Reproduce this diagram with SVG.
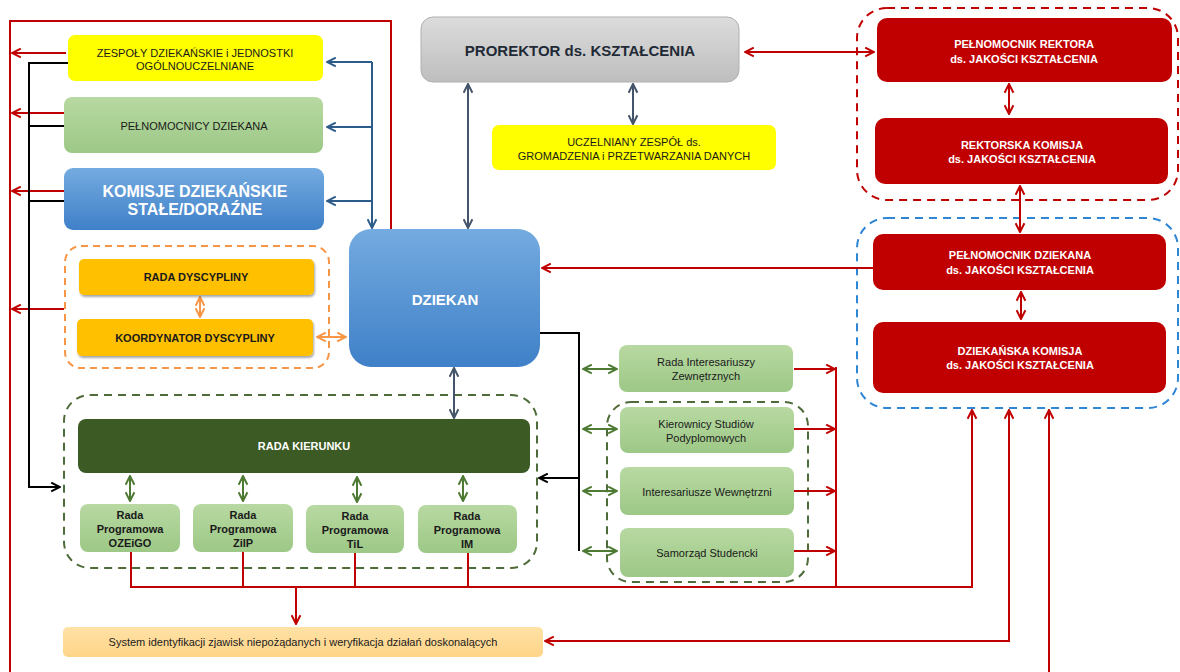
<svg xmlns="http://www.w3.org/2000/svg" width="1180" height="672" viewBox="0 0 1180 672">
<style>
text{font-family:"Liberation Sans",Arial,sans-serif;text-anchor:middle;dominant-baseline:central}
.t11{font-size:11px;fill:#1a1a1a}
.b11{font-size:11px;font-weight:bold;fill:#1a1a1a}
.w11{font-size:11px;font-weight:bold;fill:#fff}
.lr{stroke:#C00000;stroke-width:2;fill:none}
.lb{stroke:#2E5C8A;stroke-width:2;fill:none}
.lg{stroke:#44546A;stroke-width:2;fill:none}
.lk{stroke:#000;stroke-width:2;fill:none}
.lo{stroke:#F79646;stroke-width:2;fill:none}
.ld{stroke:#4F7A33;stroke-width:2;fill:none}
.green{fill:url(#gGreen)}
.red{fill:#C00000}
</style>
<defs>
<linearGradient id="gGreen" x1="0" y1="0" x2="0" y2="1"><stop offset="0" stop-color="#B8D9A2"/><stop offset="1" stop-color="#9DC886"/></linearGradient>
<linearGradient id="gBlue" x1="0" y1="0" x2="0" y2="1"><stop offset="0" stop-color="#74ABE0"/><stop offset="1" stop-color="#3F80C8"/></linearGradient>
<linearGradient id="gGrey" x1="0" y1="0" x2="0" y2="1"><stop offset="0" stop-color="#DCDCDC"/><stop offset="1" stop-color="#BEBEBE"/></linearGradient>
<linearGradient id="gSys" x1="0" y1="0" x2="0" y2="1"><stop offset="0" stop-color="#FFE2A6"/><stop offset="1" stop-color="#FFD488"/></linearGradient>
<filter id="sh" x="-5%" y="-10%" width="110%" height="130%"><feDropShadow dx="1" dy="2" stdDeviation="1.2" flood-color="#000" flood-opacity="0.35"/></filter>
<marker id="aR" viewBox="0 0 10 10" refX="9" refY="5" markerWidth="11" markerHeight="11" markerUnits="userSpaceOnUse" orient="auto-start-reverse"><path d="M1,1 L9,5 L1,9" fill="none" stroke="#C00000" stroke-width="1.8"/></marker>
<marker id="aB" viewBox="0 0 10 10" refX="9" refY="5" markerWidth="11" markerHeight="11" markerUnits="userSpaceOnUse" orient="auto-start-reverse"><path d="M1,1 L9,5 L1,9" fill="none" stroke="#2E5C8A" stroke-width="1.8"/></marker>
<marker id="aG" viewBox="0 0 10 10" refX="9" refY="5" markerWidth="11" markerHeight="11" markerUnits="userSpaceOnUse" orient="auto-start-reverse"><path d="M1,1 L9,5 L1,9" fill="none" stroke="#44546A" stroke-width="1.8"/></marker>
<marker id="aK" viewBox="0 0 10 10" refX="9" refY="5" markerWidth="11" markerHeight="11" markerUnits="userSpaceOnUse" orient="auto-start-reverse"><path d="M1,1 L9,5 L1,9" fill="none" stroke="#000" stroke-width="1.8"/></marker>
<marker id="aO" viewBox="0 0 10 10" refX="9" refY="5" markerWidth="11" markerHeight="11" markerUnits="userSpaceOnUse" orient="auto-start-reverse"><path d="M1,1 L9,5 L1,9" fill="none" stroke="#F79646" stroke-width="1.8"/></marker>
<marker id="aD" viewBox="0 0 10 10" refX="9" refY="5" markerWidth="11" markerHeight="11" markerUnits="userSpaceOnUse" orient="auto-start-reverse"><path d="M1,1 L9,5 L1,9" fill="none" stroke="#4F7A33" stroke-width="1.8"/></marker>
</defs>
<rect width="1180" height="672" fill="#fff"/>

<!-- group frames -->
<g id="grp-dyscypliny"><rect x="65" y="246" width="264" height="122" rx="16" fill="none" stroke="#F79646" stroke-width="2" stroke-dasharray="7,5"/></g>
<g id="grp-kierunek"><rect x="64" y="395" width="473" height="173" rx="26" fill="none" stroke="#4E6B3A" stroke-width="2" stroke-dasharray="8,6"/></g>
<g id="grp-wewnetrzni"><rect x="607" y="402" width="201" height="180" rx="24" fill="none" stroke="#4E6B3A" stroke-width="2" stroke-dasharray="8,6"/></g>
<g id="grp-rektor"><rect x="857" y="8" width="321" height="192" rx="30" fill="none" stroke="#C00000" stroke-width="2" stroke-dasharray="8,6"/></g>
<g id="grp-dziekan-jakosc"><rect x="857" y="218" width="321" height="190" rx="30" fill="none" stroke="#2E86D4" stroke-width="2" stroke-dasharray="8,6"/></g>

<!-- connectors -->
<g id="connectors">
<!-- red frame on the left -->
<path class="lr" d="M10,672 V21 H391 V230"/>
<path class="lr" d="M66,53 H12" marker-end="url(#aR)"/>
<path class="lr" d="M66,113 H12" marker-end="url(#aR)"/>
<path class="lr" d="M66,191 H12" marker-end="url(#aR)"/>
<path class="lr" d="M64,309 H12" marker-end="url(#aR)"/>
<!-- black collector -->
<path class="lk" d="M68,63 H29 V487 H60" marker-end="url(#aK)"/>
<path class="lk" d="M29,126 H69"/>
<path class="lk" d="M29,201 H69"/>
<!-- blue distribution -->
<path class="lb" d="M372,62 V228" marker-end="url(#aB)"/>
<path class="lb" d="M372,62 H327" marker-end="url(#aB)"/>
<path class="lb" d="M372,127 H327" marker-end="url(#aB)"/>
<path class="lb" d="M372,201 H327" marker-end="url(#aB)"/>
<!-- prorektor links -->
<path class="lg" d="M468,84 V228" marker-start="url(#aG)" marker-end="url(#aG)"/>
<path class="lg" d="M633,84 V124" marker-start="url(#aG)" marker-end="url(#aG)"/>
<path class="lg" d="M454,368 V418" marker-start="url(#aG)" marker-end="url(#aG)"/>
<!-- orange -->
<path class="lo" d="M200,297 V317" marker-start="url(#aO)" marker-end="url(#aO)"/>
<path class="lo" d="M317,337 H346" marker-start="url(#aO)" marker-end="url(#aO)"/>
<!-- red right side -->
<path class="lr" d="M745,52 H874" marker-start="url(#aR)" marker-end="url(#aR)"/>
<path class="lr" d="M1009,84 V114" marker-start="url(#aR)" marker-end="url(#aR)"/>
<path class="lr" d="M1020,186 V232" marker-start="url(#aR)" marker-end="url(#aR)"/>
<path class="lr" d="M1021,292 V319" marker-start="url(#aR)" marker-end="url(#aR)"/>
<path class="lr" d="M873,268 H542" marker-end="url(#aR)"/>
<!-- dziekan to stakeholders -->
<path class="lk" d="M540,333 H579 V551"/>
<path class="lk" d="M579,478 H539" marker-end="url(#aK)"/>
<path class="ld" d="M583,369 H617" marker-start="url(#aD)" marker-end="url(#aD)"/>
<path class="ld" d="M583,429 H617" marker-start="url(#aD)" marker-end="url(#aD)"/>
<path class="ld" d="M583,491 H617" marker-start="url(#aD)" marker-end="url(#aD)"/>
<path class="ld" d="M583,551 H617" marker-start="url(#aD)" marker-end="url(#aD)"/>
<!-- rada kierunku / programowe -->
<path class="ld" d="M130,476 V501" marker-start="url(#aD)" marker-end="url(#aD)"/>
<path class="ld" d="M243,476 V501" marker-start="url(#aD)" marker-end="url(#aD)"/>
<path class="ld" d="M357,477 V502" marker-start="url(#aD)" marker-end="url(#aD)"/>
<path class="ld" d="M463,476 V501" marker-start="url(#aD)" marker-end="url(#aD)"/>
<!-- red outputs -->
<path class="lr" d="M794,369 H835" marker-end="url(#aR)"/>
<path class="lr" d="M794,429 H835" marker-end="url(#aR)"/>
<path class="lr" d="M794,491 H835" marker-end="url(#aR)"/>
<path class="lr" d="M794,551 H835" marker-end="url(#aR)"/>
<path class="lr" d="M836,367 V587"/>
<path class="lr" d="M131,552 V587 H972 V410" marker-end="url(#aR)"/>
<path class="lr" d="M243,552 V587"/>
<path class="lr" d="M355,553 V587"/>
<path class="lr" d="M468,553 V587"/>
<path class="lr" d="M296,587 V624" marker-end="url(#aR)"/>
<path class="lr" d="M1009,410 V641 H545" marker-start="url(#aR)" marker-end="url(#aR)"/>
<path class="lr" d="M1049,672 V410" marker-end="url(#aR)"/>
</g>

<!-- nodes -->
<g id="zespoly"><rect x="68" y="35" width="255" height="46" rx="7" fill="#FFFF00"/><text class="t11" x="195" y="53">ZESPOŁY DZIEKAŃSKIE i JEDNOSTKI</text><text class="t11" x="195" y="66">OGÓLNOUCZELNIANE</text></g>
<g id="pelnomocnicy"><rect x="64" y="97" width="259" height="56" rx="8" class="green"/><text class="t11" x="194" y="126">PEŁNOMOCNICY DZIEKANA</text></g>
<g id="komisje"><rect x="64" y="168" width="260" height="62" rx="9" fill="url(#gBlue)"/><text x="195" y="191" style="font-size:16px;font-weight:bold;fill:#fff">KOMISJE DZIEKAŃSKIE</text><text x="195" y="209" style="font-size:16px;font-weight:bold;fill:#fff">STAŁE/DORAŹNE</text></g>
<g id="rada-dyscypliny"><rect x="79" y="259" width="235" height="36" rx="5" fill="#FFC000" filter="url(#sh)"/><text class="b11" x="196" y="277">RADA DYSCYPLINY</text></g>
<g id="koordynator"><rect x="77" y="319" width="236" height="37" rx="5" fill="#FFC000" filter="url(#sh)"/><text class="b11" x="195" y="338">KOORDYNATOR DYSCYPLINY</text></g>
<g id="prorektor"><rect x="421" y="17" width="318" height="65" rx="12" fill="url(#gGrey)" stroke="#B0B0B0"/><text x="580" y="50" style="font-size:15px;font-weight:bold;fill:#1f2a36">PROREKTOR ds. KSZTAŁCENIA</text></g>
<g id="uczelniany"><rect x="492" y="125" width="284" height="45" rx="7" fill="#FFFF00"/><text class="t11" x="634" y="142">UCZELNIANY ZESPÓŁ ds.</text><text class="t11" x="634" y="156">GROMADZENIA i PRZETWARZANIA DANYCH</text></g>
<g id="dziekan"><rect x="349" y="229" width="191" height="138" rx="22" fill="url(#gBlue)"/><text x="445" y="299" style="font-size:15px;font-weight:bold;fill:#fff">DZIEKAN</text></g>
<g id="rada-kierunku"><rect x="78" y="419" width="452" height="54" rx="8" fill="#3B5A24"/><text class="w11" x="304" y="446">RADA KIERUNKU</text></g>
<g id="rp-ozeigo"><rect x="80" y="504" width="100" height="48" rx="8" class="green"/><text class="b11" x="130" y="515">Rada</text><text class="b11" x="130" y="529">Programowa</text><text class="b11" x="130" y="543">OZEiGO</text></g>
<g id="rp-ziip"><rect x="193" y="504" width="100" height="48" rx="8" class="green"/><text class="b11" x="243" y="515">Rada</text><text class="b11" x="243" y="529">Programowa</text><text class="b11" x="243" y="543">ZiIP</text></g>
<g id="rp-til"><rect x="306" y="505" width="98" height="48" rx="8" class="green"/><text class="b11" x="355" y="516">Rada</text><text class="b11" x="355" y="530">Programowa</text><text class="b11" x="355" y="544">TiL</text></g>
<g id="rp-im"><rect x="418" y="505" width="99" height="48" rx="8" class="green"/><text class="b11" x="467" y="516">Rada</text><text class="b11" x="467" y="530">Programowa</text><text class="b11" x="467" y="544">IM</text></g>
<g id="system"><rect x="63" y="627" width="480" height="30" rx="5" fill="url(#gSys)"/><text class="t11" x="303" y="642">System identyfikacji zjawisk niepożądanych i weryfikacja działań doskonalących</text></g>
<g id="rada-interesariuszy"><rect x="619" y="345" width="174" height="47" rx="8" class="green"/><text class="t11" x="706" y="362">Rada Interesariuszy</text><text class="t11" x="706" y="376">Zewnętrznych</text></g>
<g id="kierownicy"><rect x="620" y="407" width="174" height="46" rx="8" class="green"/><text class="t11" x="706" y="424">Kierownicy Studiów</text><text class="t11" x="706" y="438">Podyplomowych</text></g>
<g id="interesariusze-wewn"><rect x="620" y="467" width="174" height="48" rx="8" class="green"/><text class="t11" x="707" y="492">Interesariusze Wewnętrzni</text></g>
<g id="samorzad"><rect x="620" y="528" width="174" height="49" rx="8" class="green"/><text class="t11" x="707" y="553">Samorząd Studencki</text></g>
<g id="pelnomocnik-rektora"><rect x="877" y="18" width="295" height="64" rx="10" class="red"/><text class="w11" x="1024" y="44">PEŁNOMOCNIK REKTORA</text><text class="w11" x="1024" y="59">ds. JAKOŚCI KSZTAŁCENIA</text></g>
<g id="rektorska-komisja"><rect x="875" y="118" width="293" height="66" rx="10" class="red"/><text class="w11" x="1022" y="145">REKTORSKA KOMISJA</text><text class="w11" x="1022" y="159">ds. JAKOŚCI KSZTAŁCENIA</text></g>
<g id="pelnomocnik-dziekana"><rect x="873" y="234" width="293" height="56" rx="10" class="red"/><text class="w11" x="1020" y="255">PEŁNOMOCNIK DZIEKANA</text><text class="w11" x="1020" y="270">ds. JAKOŚCI KSZTAŁCENIA</text></g>
<g id="dziekanska-komisja"><rect x="873" y="322" width="293" height="71" rx="10" class="red"/><text class="w11" x="1020" y="351">DZIEKAŃSKA KOMISJA</text><text class="w11" x="1020" y="365">ds. JAKOŚCI KSZTAŁCENIA</text></g>
</svg>
